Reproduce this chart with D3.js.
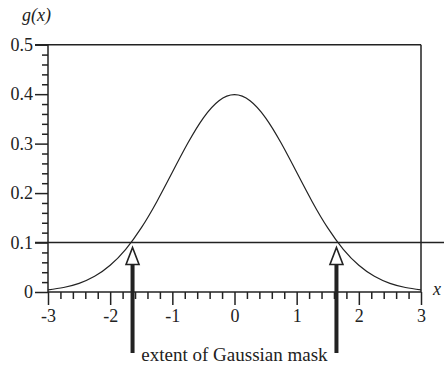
<!DOCTYPE html>
<html>
<head>
<meta charset="utf-8">
<script src="https://cdn.jsdelivr.net/npm/d3@7"></script>
<style>
  html, body { margin: 0; padding: 0; background: #fff; }
  svg { display: block; }
  text { font-family: "Liberation Serif", "DejaVu Serif", serif; fill: #222; }
</style>
</head>
<body>
<svg id="chart" width="444" height="366"></svg>
<script>
// Gaussian g(x), sampled every 0.25
const xs = [-3, -2.75, -2.5, -2.25, -2, -1.75, -1.5, -1.25, -1, -0.75, -0.5, -0.25, 0,
            0.25, 0.5, 0.75, 1, 1.25, 1.5, 1.75, 2, 2.25, 2.5, 2.75, 3];
const gs = [0.0044, 0.0091, 0.0175, 0.0317, 0.054, 0.0863, 0.1295, 0.1826, 0.242, 0.3011, 0.3521, 0.3867, 0.3989,
            0.3867, 0.3521, 0.3011, 0.242, 0.1826, 0.1295, 0.0863, 0.054, 0.0317, 0.0175, 0.0091, 0.0044];
const xTicks = [-3, -2, -1, 0, 1, 2, 3];
const xTickLabels = ["-3", "-2", "-1", "0", "1", "2", "3"];
const yTicks = [0, 0.1, 0.2, 0.3, 0.4, 0.5];
const yTickLabels = ["0", "0.1", "0.2", "0.3", "0.4", "0.5"];
const threshold = [0.1];
const maskExtent = [-1.64, 1.64];
const caption = "extent of Gaussian mask";

const svg = d3.select("#chart");
const ink = "#222";
const serif = '"Liberation Serif", "DejaVu Serif", serif';
const plotL = 48, plotR = 421, plotT = 44.7, plotB = 292;

const x = d3.scaleLinear().domain([-3, 3]).range([plotL, plotR]);
const y = d3.scaleLinear().domain([0, 0.5]).range([plotB, plotT]);

const xMinor = d3.range(-3, 3.001, 0.2).map(v => +v.toFixed(2)).filter(v => !xTicks.includes(v));
const yMinor = d3.range(0, 0.5001, 0.02).map(v => +v.toFixed(2)).filter(v => !yTicks.includes(v));

function styleAxis(g) {
  g.attr("font-family", serif).attr("font-size", 18);
  g.select(".domain").remove();
  g.selectAll(".tick line").attr("stroke", ink).attr("stroke-width", 1.5);
  g.selectAll(".tick text").attr("fill", ink);
}

// minor ticks
svg.append("g").attr("transform", `translate(0,${plotB})`)
  .call(d3.axisBottom(x).tickValues(xMinor).tickSize(7).tickFormat(""))
  .call(styleAxis);
svg.append("g").attr("transform", `translate(${plotL},0)`)
  .call(d3.axisLeft(y).tickValues(yMinor).tickSize(6).tickFormat(""))
  .call(styleAxis);

// major ticks with labels
svg.append("g").attr("transform", `translate(0,${plotB})`)
  .call(d3.axisBottom(x).tickValues(xTicks).tickSize(13).tickPadding(4)
    .tickFormat((d, i) => xTickLabels[i]))
  .call(styleAxis);
svg.append("g").attr("transform", `translate(${plotL},0)`)
  .call(d3.axisLeft(y).tickValues(yTicks).tickSize(13).tickPadding(2)
    .tickFormat((d, i) => yTickLabels[i]))
  .call(styleAxis);

// frame: left, bottom, top, right
const frame = svg.append("g").attr("stroke", ink).attr("stroke-width", 1.5).attr("fill", "none");
frame.append("line").attr("x1", x(-3)).attr("x2", x(-3)).attr("y1", y(0.5)).attr("y2", y(0));
frame.append("line").attr("x1", x(-3)).attr("x2", x(3)).attr("y1", y(0)).attr("y2", y(0));
frame.append("line").attr("x1", x(-3) - 13).attr("x2", x(3)).attr("y1", y(0.5)).attr("y2", y(0.5));
frame.append("line").attr("x1", x(3)).attr("x2", x(3)).attr("y1", y(0.5)).attr("y2", y(0));

// threshold line, running off to the right edge
svg.selectAll(".thr").data(threshold).join("line")
  .attr("x1", x(-3) - 13).attr("x2", 444)
  .attr("y1", d => y(d)).attr("y2", d => y(d))
  .attr("stroke", ink).attr("stroke-width", 1.5);

// Gaussian curve
const pts = xs.map((v, i) => [v, gs[i]]);
svg.append("path").datum(pts)
  .attr("d", d3.line().x(d => x(d[0])).y(d => y(d[1])).curve(d3.curveNatural))
  .attr("fill", "none").attr("stroke", ink).attr("stroke-width", 1.2);

// arrows marking the mask extent
const tipY = y(threshold[0]) + 5, baseY = tipY + 17, tailY = 353;
const arrows = svg.selectAll(".arrow").data(maskExtent).join("g")
  .attr("transform", d => `translate(${x(d)},0)`);
arrows.append("rect").attr("x", -2).attr("width", 4)
  .attr("y", baseY).attr("height", tailY - baseY).attr("fill", ink);
arrows.append("path")
  .attr("d", `M0,${tipY} L6.5,${baseY} L-6.5,${baseY} Z`)
  .attr("fill", "#fff").attr("stroke", ink).attr("stroke-width", 1.6).attr("stroke-linejoin", "miter");

svg.append("text").attr("x", x(0)).attr("y", 361)
  .attr("text-anchor", "middle").style("font-size", "19px").text(caption);

// axis titles
svg.append("text").attr("x", 22).attr("y", 21).style("font-size", "18px")
  .style("font-style", "italic").text("g(x)");
svg.append("text").attr("x", 433).attr("y", 295).style("font-size", "18px")
  .style("font-style", "italic").text("x");
</script>
</body>
</html>
